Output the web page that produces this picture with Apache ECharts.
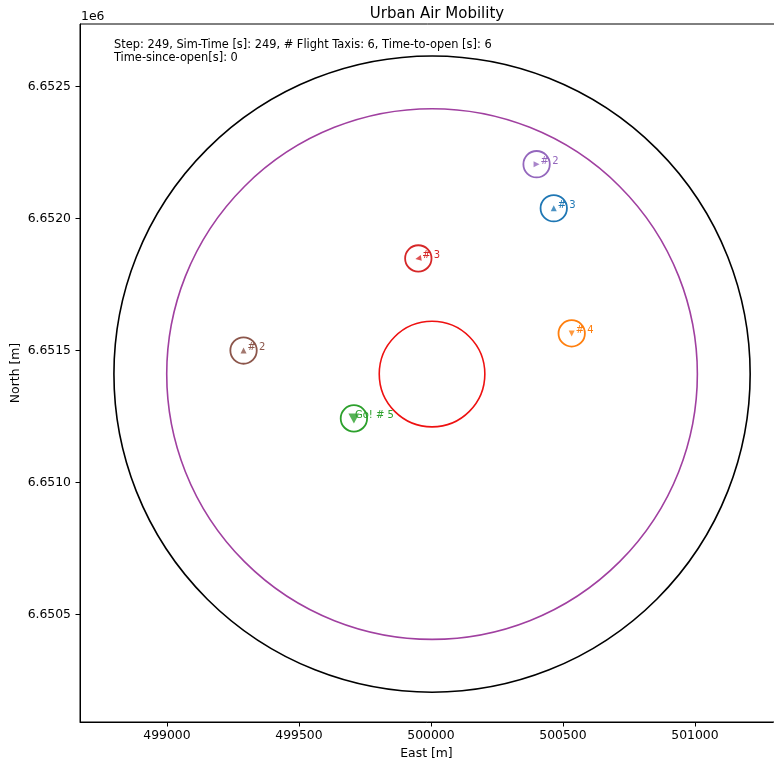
<!DOCTYPE html>
<html><head><meta charset="utf-8">
<script src="https://cdn.jsdelivr.net/npm/echarts@6/dist/echarts.min.js"></script>
<style>html,body{margin:0;padding:0;background:#fff}#c{width:774px;height:764px}</style>
</head><body><div id="c"></div>
<script>
// Rings around vertiport: [east, north, radius m]
const ringCenterEast = 500004;
const ringCenterNorth = 6651410;
const ringRadii = [1205, 1005, 200];
const ringColors = ['#000000', '#a040a0', '#ee1111'];

// Flight taxis
const taxiEast  = [500400, 500465, 499952, 500533, 499290, 499708];
const taxiNorth = [6652205, 6652038, 6651848, 6651564, 6651499, 6651242];
const taxiLabels = ['# 2', '# 3', '# 3', '# 4', '# 2', 'Go! # 5'];
const taxiColors = ['#9467bd', '#1f77b4', '#d62728', '#ff7f0e', '#8c564b', '#2ca02c'];
const taxiRotate = [-90, 0, 100, 180, 0, 180];
const taxiRadius = 50;

const xTicks = [499000, 499500, 500000, 500500, 501000];
const yTicks = [6650500, 6651000, 6651500, 6652000, 6652500];

const xMin = 498670.5, xMax = 501295.5;
const yMin = 6650092, yMax = 6652736;

const font = 'DejaVu Sans';
const chart = echarts.init(document.getElementById('c'), null, {renderer: 'canvas'});

const ringData = ringRadii.map((r, i) => [ringCenterEast, ringCenterNorth, r, i]);
const taxiData = taxiEast.map((e, i) => [e, taxiNorth[i], taxiRadius, i]);

chart.setOption({
  animation: false,
  textStyle: {fontFamily: font},
  title: {text: 'Urban Air Mobility', left: 432, top: 2, textAlign: 'center',
    textStyle: {fontFamily: font, fontSize: 15, fontWeight: 'normal', color: '#000'}},
  grid: {left: 80, right: 1, top: 24, bottom: 42, containLabel: false, outerBoundsMode: 'none'},
  xAxis: {type: 'value', min: xMin, max: xMax, name: 'East [m]', nameLocation: 'middle', nameGap: 26,
    nameMoveOverlap: false,
    nameTextStyle: {fontFamily: font, fontSize: 12.4, color: '#000'},
    axisLine: {show: true, lineStyle: {color: '#000', width: 1}},
    axisTick: {show: true, length: 4.5, customValues: xTicks, lineStyle: {color: '#000'}},
    axisLabel: {customValues: xTicks, fontFamily: font, fontSize: 12.4, color: '#000', margin: 8,
      formatter: v => String(Math.round(v))},
    splitLine: {show: false}},
  yAxis: {type: 'value', min: yMin, max: yMax, name: 'North [m]', nameLocation: 'middle', nameGap: 58,
    nameMoveOverlap: false,
    nameTextStyle: {fontFamily: font, fontSize: 12.4, color: '#000'},
    axisLine: {show: true, lineStyle: {color: '#000', width: 1}},
    axisTick: {show: true, length: 4.5, customValues: yTicks, lineStyle: {color: '#000'}},
    axisLabel: {customValues: yTicks, fontFamily: font, fontSize: 12.4, color: '#000', margin: 9,
      formatter: v => (v / 1e6).toFixed(4)},
    splitLine: {show: false}},
  graphic: [
    {type: 'rect', shape: {x: 80, y: 24, width: 800, height: 698}, style: {fill: 'none', stroke: '#000', lineWidth: 1}, silent: true, z: 10},
    {type: 'text', left: 81, top: 11, style: {text: '1e6', fontFamily: font, fontSize: 12.4, fill: '#000'}},
    {type: 'text', left: 114, top: 39, style: {text: 'Step: 249, Sim-Time [s]: 249, # Flight Taxis: 6, Time-to-open [s]: 6\nTime-since-open[s]: 0',
      fontFamily: font, fontSize: 11.4, lineHeight: 12.5, fill: '#000'}}
  ],
  series: [
    {type: 'custom', coordinateSystem: 'cartesian2d', data: ringData, clip: true,
      renderItem: (params, api) => {
        const c = api.coord([api.value(0), api.value(1)]);
        const r = api.size([api.value(2), 0])[0];
        return {type: 'circle', shape: {cx: c[0], cy: c[1], r: r},
          style: {fill: 'none', stroke: ringColors[api.value(3)], lineWidth: 1.6}};
      }},
    {type: 'custom', coordinateSystem: 'cartesian2d', data: taxiData,
      renderItem: (params, api) => {
        const i = api.value(3);
        const c = api.coord([api.value(0), api.value(1)]);
        const r = api.size([api.value(2), 0])[0];
        const isGo = taxiLabels[i].startsWith('Go');
        return {type: 'group', children: [
          {type: 'circle', shape: {cx: c[0], cy: c[1], r: r},
            style: {fill: 'none', stroke: taxiColors[i], lineWidth: 1.8}},
          {type: 'text', x: c[0] + (isGo ? 1 : 4), y: c[1] - 3,
            style: {text: taxiLabels[i], fill: taxiColors[i], fontFamily: font, fontSize: 10,
              align: 'left', verticalAlign: 'middle'}}
        ]};
      }},
    {type: 'scatter', data: taxiEast.map((e, i) => ({
        value: [e, taxiNorth[i]],
        symbolRotate: taxiRotate[i],
        symbolSize: taxiLabels[i].startsWith('Go') ? [11, 10] : [6, 6],
        itemStyle: {color: taxiColors[i]}
      })), symbol: 'triangle', z: 5}
  ]
});
</script></body></html>
